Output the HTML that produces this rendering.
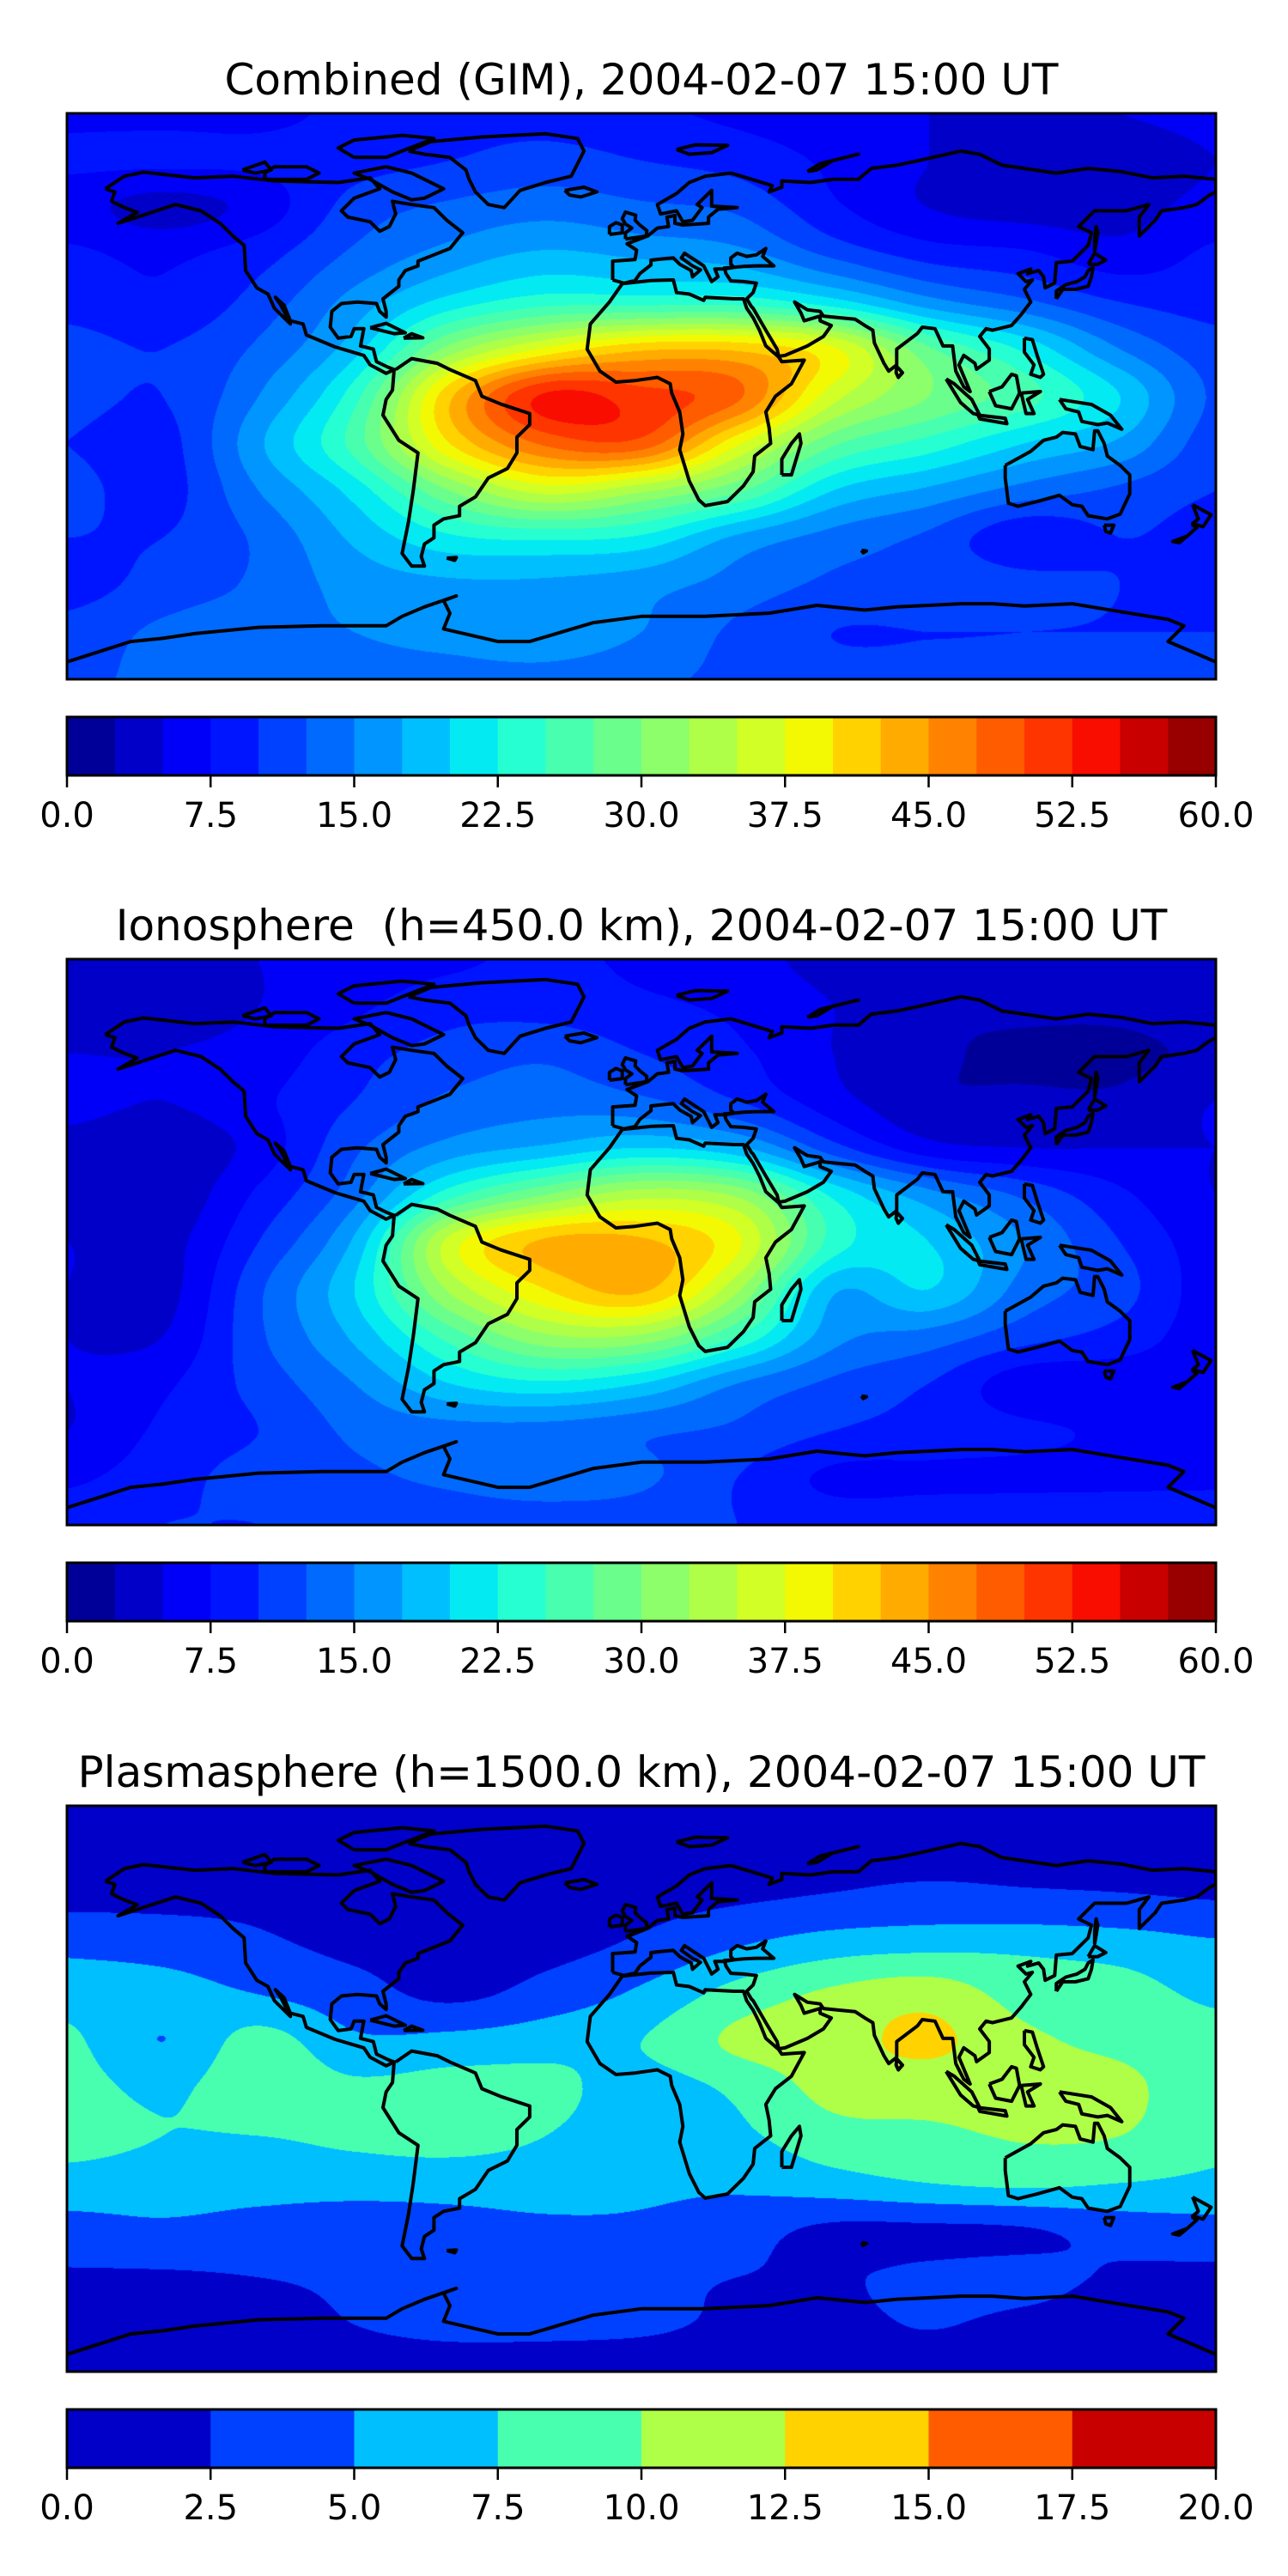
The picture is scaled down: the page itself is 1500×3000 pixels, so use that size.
<!DOCTYPE html>
<html><head><meta charset="utf-8">
<style>
html,body{margin:0;padding:0;background:#fff;}
#wrap{position:relative;width:1500px;height:3000px;overflow:hidden;}
canvas{position:absolute;}
svg{position:absolute;left:0;top:0;}
</style></head>
<body>
<div id="wrap">
<canvas id="c0" width="1338" height="659" style="left:78px;top:132px"></canvas>
<canvas id="c1" width="1338" height="659" style="left:78px;top:1117px"></canvas>
<canvas id="c2" width="1338" height="659" style="left:78px;top:2103px"></canvas>
<svg id="ov" width="1500" height="3000"></svg>
</div>
<script>
const lons=[-180,-150,-120,-90,-60,-30,0,30,60,90,120,150,180];
const lats=[90,75,60,45,30,15,0,-15,-30,-45,-60,-75,-90];
const gimValues=[
[7,7,7,8,9,9,8,7,6,5,4,5,6],
[8,8,8,9,10,11,10,9,7,5,4,3,5],
[6,4,6,11,13,14,13,12,8,5,4,4,6],
[8,7,9,13,16,18,17,16,12,9,8,6,8],
[9,8,11,16,21,24,24,24,21,16,13,10,9],
[11,10,13,19,31,38,42,42,38,28,22,15,11],
[11,10,15,24,42,53,51,48,36,30,26,20,12],
[10,9,17,26,40,48,49,38,28,24,20,17,11],
[11,9,15,21,30,36,33,28,20,17,14,12,10],
[10,10,13,18,22,23,22,17,14,12,8,10,9],
[9,11,13,16,17,17,16,14,12,12,11,10,9],
[11,13,14,15,16,17,15,12,10,10,10,10,10],
[12,13,13,14,14,14,13,12,11,11,11,11,11]];
const ionoValues=[
[5,5,5,6,7,8,7,6,4,3,3,3,4],
[4,4,5,7,9,9,8,7,5,3,3,3,4],
[5,5,6,9,11,12,10,8,5,3,2,2,3],
[6,5,7,10,13,14,13,10,6,3,3,3,5],
[4,3,6,12,16,18,20,18,11,6,5,5,5],
[4,3,8,14,24,30,34,32,22,16,12,8,5],
[5,4,10,18,36,43,43,38,24,20,15,10,6],
[5,4,12,20,33,40,43,33,18,20,14,11,6],
[5,5,12,18,26,32,32,25,16,14,11,9,6],
[5,7,11,15,20,22,20,15,12,10,6,6,6],
[5,8,10,13,14,14,13,12,10,9,8,7,6],
[7,9,11,12,13,14,13,10,7,7,7,7,7],
[9,10,10,11,11,11,11,10,9,9,9,9,9]];
const plasmaValues=[
[1.5,1.5,1.5,1.5,1.5,1.5,1.5,1.5,1.5,1.5,1.5,1.5,1.5],
[1.5,1.5,1.5,1.5,1.5,1.5,1.5,1.8,2,2,2,2,2],
[2,2,2,1.5,1.5,1.5,1.8,2.3,2.8,3.2,3,2.8,2.5],
[4.5,4,3,2,1.5,1.8,3,5,6.5,7,7,6.5,5.5],
[6.5,6,5,3.5,2,3.5,5.5,8.5,10.5,11.5,9,8.5,7],
[8,5,8.5,5.5,5.8,6.5,7.5,10.5,11.5,13,10.5,9.5,8.5],
[8.5,7,9,8,8.5,8.2,6.5,8,10.8,11,10.5,10.5,8.5],
[8.5,7.5,7.5,8,8.5,7.5,6,7,9,9.5,10.2,10,8],
[6.5,6.2,6,6,6,6,5.5,5.5,6.5,7.5,8,7.5,7],
[4,4.5,4,3.5,4,4.5,4.5,3.5,2,2,2.3,3.5,4],
[2.2,2.2,2.5,2.8,3,3.2,3,2.5,2.3,3,3.2,2.2,2],
[1.5,1.5,1.8,2.5,3,3,2.8,2.2,2,2.6,2,1.5,1.5],
[1.5,1.5,1.5,1.5,1.5,1.5,1.5,1.5,1.5,1.5,1.5,1.5,1.5]];
const gimTicks=["0.0","7.5","15.0","22.5","30.0","37.5","45.0","52.5","60.0"];
const plasmaTicks=["0.0","2.5","5.0","7.5","10.0","12.5","15.0","17.5","20.0"];
const titles=["Combined (GIM), 2004-02-07 15:00 UT","Ionosphere  (h=450.0 km), 2004-02-07 15:00 UT","Plasmasphere (h=1500.0 km), 2004-02-07 15:00 UT"];

const MX=78,MW=1338,MH=659;
const TOPS=[132,1117,2103];
function jet(t){
  function seg(p,x){for(let i=0;i<p.length-1;i++){if(x<=p[i+1][0]){const f=(x-p[i][0])/(p[i+1][0]-p[i][0]);return p[i][1]+f*(p[i+1][1]-p[i][1]);}}return p[p.length-1][1];}
  const r=seg([[0,0],[0.35,0],[0.66,1],[0.89,1],[1,0.5]],t);
  const g=seg([[0,0],[0.125,0],[0.375,1],[0.64,1],[0.91,0],[1,0]],t);
  const b=seg([[0,0.5],[0.11,1],[0.34,1],[0.65,0],[1,0]],t);
  return [Math.round(r*255),Math.round(g*255),Math.round(b*255)];
}
function cr(p0,p1,p2,p3,t){return 0.5*((2*p1)+(-p0+p2)*t+(2*p0-5*p1+4*p2-p3)*t*t+(-p0+3*p1-3*p2+p3)*t*t*t);}
function sample(grid,fx,fy){
  const nx=grid[0].length,ny=grid.length;
  const ix=Math.floor(fx),iy=Math.floor(fy),tx=fx-ix,ty=fy-iy;
  const cx=i=>Math.max(0,Math.min(nx-1,i)),cy=i=>Math.max(0,Math.min(ny-1,i));
  const rows=[];
  for(let j=-1;j<=2;j++){const r=grid[cy(iy+j)];rows.push(cr(r[cx(ix-1)],r[cx(ix)],r[cx(ix+1)],r[cx(ix+2)],tx));}
  return cr(rows[0],rows[1],rows[2],rows[3],ty);
}
function drawMap(id,grid,vmax,nb){
  const c=document.getElementById(id),ctx=c.getContext('2d');
  const img=ctx.createImageData(MW,MH),d=img.data;
  const cols=[];for(let i=0;i<nb;i++)cols.push(jet((i+0.5)/nb));
  const step=vmax/nb;
  const dlon=lons[1]-lons[0],dlat=lats[0]-lats[1];
  for(let y=0;y<MH;y++){
    const lat=90-(y+0.5)/MH*180;const fy=(lats[0]-lat)/dlat;
    for(let x=0;x<MW;x++){
      const lon=-180+(x+0.5)/MW*360;const fx=(lon-lons[0])/dlon;
      const v=sample(grid,fx,fy);
      let k=Math.floor(v/step);k=Math.max(0,Math.min(nb-1,k));
      const o=(y*MW+x)*4,cc=cols[k];d[o]=cc[0];d[o+1]=cc[1];d[o+2]=cc[2];d[o+3]=255;
    }
  }
  ctx.putImageData(img,0,0);
}
drawMap('c0',gimValues,60,24);
drawMap('c1',ionoValues,60,24);
drawMap('c2',plasmaValues,20,8);

const coasts=[
[[-168,66],[-162,70],[-156,71.3],[-140,69.5],[-128,70],[-115,68.5],[-95,68],[-85,69.5],[-82,66],[-90,63],[-94,59],[-92,57],[-85,55.5],[-82,52.5],[-79,54],[-77,58],[-78,62],[-72,61],[-65,60],[-61,56],[-56,52],[-60,47],[-65,45],[-70,43],[-70,41.5],[-74,40],[-76,37],[-76,35],[-81,31],[-80,27],[-80,25.2],[-82,27],[-83,29.5],[-89,30],[-94,29.5],[-97,27],[-97.5,22],[-95,18.5],[-91,19],[-90,21.5],[-87,21.5],[-88,16],[-84,15],[-83,11],[-79.5,9.3],[-77.5,8.5],[-80,7.3],[-85,10],[-87,13],[-92,14.5],[-96,15.7],[-105,19.5],[-106,23],[-110,24],[-112,29],[-114.7,31.5],[-113,29],[-110,23],[-112,25],[-115,28],[-117,32.5],[-120.5,34.5],[-124,40],[-124.5,48],[-128,51],[-132,55],[-138,59],[-146,61],[-152,59],[-158,57],[-164,55],[-158,58.5],[-162,60],[-166,62],[-165,65],[-168,66]],
[[-80,73],[-72,71],[-64,67],[-62,66],[-68,63],[-72,62.5],[-78,65],[-85,69],[-90,71],[-80,73]],
[[-90,76],[-80,76],[-75,78],[-65,82],[-75,83],[-90,81.5],[-95,79],[-90,76]],
[[-118,69],[-105,69],[-101,71],[-105,73],[-115,73],[-118,71],[-118,69]],
[[-125,72],[-118,74.5],[-116,72],[-121,71],[-125,72]],
[[-73,78],[-66,81],[-50,82.5],[-30,83.5],[-20,82],[-18,78],[-20,74],[-22,70],[-30,68],[-38,65.5],[-43,60],[-48,61],[-52,65],[-54,69],[-55,72],[-60,76],[-68,77],[-73,78]],
[[-77,8.5],[-72,12],[-64,10.5],[-60,8.5],[-52,5],[-50,0],[-44,-2.5],[-35,-5.5],[-35,-9],[-39,-13],[-39,-18],[-42,-23],[-48,-26],[-52,-32],[-57,-35],[-57,-38],[-62,-39],[-65,-41],[-65,-45],[-68,-47],[-69,-51],[-68,-54],[-72,-54],[-75,-50],[-74,-45],[-73,-40],[-71.5,-30],[-70,-18],[-76,-14],[-81,-6],[-80,-1],[-78,2],[-77.5,8.5]],
[[-6,35.8],[-10,30],[-16,23],[-17,15],[-13,8],[-8,4.5],[-2,5],[5,6],[9,4],[9.5,1],[12,-5],[13,-12],[12,-17],[15,-27],[18,-33],[20,-34.8],[27,-33.5],[32,-28.5],[35,-24],[35.5,-19],[40.5,-15],[40,-10],[39,-5],[42,0],[47,4],[51,11.5],[44,11],[43,12.5],[39,16],[37,21],[35,25],[33,28],[32,31],[29,31],[20,31.5],[19.5,30.5],[15,32.5],[11,33],[10,37],[3,36.8],[-6,35.8]],
[[-9,37],[-9,43],[-2,43.5],[-1.5,46.5],[-4.5,48.5],[2,51],[5,53.5],[8.5,54],[8,57],[10.5,57.5],[10.5,55],[13,54.5],[21,55],[21,57],[24,59.5],[30,60],[22,60.5],[22,65.5],[17.5,61],[19,60],[16,56],[13,55.5],[11,59],[6,58],[5,61],[11,64.5],[15,68],[20,70],[28,71],[33,69.5],[41,67],[40,65],[44,66.5],[44,68.5],[53,68],[60,69],[68,69],[72,72.5],[80,73.5],[87,75],[100,78],[106,77],[113,73.5],[130,71],[140,72.5],[150,71.5],[160,69.5],[170,70],[180,69],[180,65],[178,64],[174,61],[170,60],[163,59],[161,56],[156,51],[156,57],[159,61],[152,59],[142,59],[137,54],[141,52],[140,48],[135,43],[130,42.5],[129.5,36],[126.5,34.5],[126,38],[124.5,40],[121,39],[122,40.5],[118,39],[120.5,36.5],[122.5,37],[120,34],[122,30],[119,26],[116,22.5],[110,21],[108,21.5],[106,19],[109,15],[109,11.5],[105,8.6],[104.5,10.5],[101,13],[99.5,10],[103,1.5],[101,3],[98.5,8],[97.5,16],[94.5,16],[92,21.5],[88,22],[86.5,20],[80,15],[80,10],[77.5,8],[76,10.5],[73,17],[72.5,21],[70,22.5],[67,24.5],[62,25],[57,25.5],[56,27],[52,27.5],[48,30],[50,26.5],[51,24],[56,25.5],[56,24],[59.5,22.5],[57,19],[52,16],[45,13],[43,12.7],[42.5,15],[39,21],[35,28],[34.5,28.5],[33,31],[35,33],[36,36],[32,36.5],[28,36.7],[26.5,39],[26,40.8],[29,41],[28,42],[28,44],[30,45.5],[33,44.5],[36,45],[39,47],[38,44.5],[41.5,41.5],[36,41.5],[32,41.3],[29,41],[26,40.5],[23,40.5],[24,38],[22,36.5],[21,38.5],[19.5,41.5],[13.5,45.5],[12.5,44],[16,41.5],[18.5,40.2],[16,38],[15.6,40],[12,42],[10,44],[7.5,43.8],[3,43.3],[3,41.8],[-0.5,39],[-2,36.8],[-5.5,36],[-9,37]],
[[-5,50],[1.5,51],[1.7,52.7],[-0.5,54.5],[-2,56],[-1.8,57.6],[-5,58.6],[-6,56.5],[-5,54.8],[-3,53.5],[-5,52],[-5,50]],
[[-10,51.5],[-6,52],[-6,54.5],[-8,55.2],[-10,54],[-10,51.5]],
[[-24,65.5],[-18,66.5],[-14,65],[-19,63.4],[-22.5,64],[-24,65.5]],
[[11,78.5],[17,80],[27,79.8],[22,77.5],[15,77],[11,78.5]],
[[52,71.5],[56,74],[68,77],[60,75],[55,72],[52,71.5]],
[[142,46],[143,52],[142.5,54],[142,50],[142,46]],
[[114,-22],[114,-26],[115,-34],[118,-35],[124,-33.5],[131,-31.5],[135,-34.5],[138,-35],[140,-38],[146,-39],[150,-37.5],[153,-31],[153,-25],[150,-22],[146,-19],[145,-15],[143,-11],[142,-11],[141.5,-17],[137.5,-16],[136,-12],[132,-11.5],[130,-13],[126,-14],[122,-17.5],[114,-22]],
[[145,-41],[148,-41],[147,-43.5],[145.5,-43],[145,-41]],
[[-180,-84.5],[-160,-78],[-150,-77],[-140,-75.5],[-120,-73.5],[-100,-73],[-80,-73],[-75,-70],[-68,-67],[-58,-63.5],[-62,-65],[-60,-69],[-62,-74],[-45,-78],[-35,-78],[-25,-75],[-15,-72],[0,-70],[20,-70],[40,-69],[55,-66.5],[70,-68],[80,-67],[90,-66.5],[100,-66],[110,-66],[120,-66.7],[135,-66],[150,-68.5],[165,-71],[170,-73],[165,-78],[180,-84.5]],
[[44,-25],[47,-25],[50,-15],[49.5,-12],[47,-15],[44,-20],[44,-25]],
[[130,31],[132,34],[136,34],[140,35],[141,38],[141.5,41],[140,40],[139,38],[136.5,36.5],[133,35.5],[130,33.5],[130,31]],
[[140,42],[142,45.5],[145.5,43.3],[143,42],[140,42]],
[[95.5,5.5],[98,4],[103.5,-1],[106,-6],[104,-5.5],[100,-2],[95.5,5.5]],
[[109,1.5],[111,-3],[116,-4],[118.5,1],[117.5,6.5],[116,7],[113,3],[109,1.5]],
[[105.5,-6],[114,-7],[114.5,-8.7],[106,-7.2],[105.5,-6]],
[[131,-1],[141,-2.6],[147,-6],[150.5,-10.5],[146,-8.5],[143,-9],[138,-8],[137,-5],[133,-4],[131,-1]],
[[120,18.5],[122.5,18],[124,13],[126,7],[125,6],[122,7],[123,10],[120,14],[120,18.5]],
[[119,1],[125,1.5],[121,-1],[123,-5.5],[120.5,-5.5],[119,1]],
[[80,9.5],[81.8,7.5],[80.5,6],[79.8,7.5],[80,9.5]],
[[172.7,-34.5],[178.5,-37.7],[176,-41.5],[172.7,-40.5],[174.5,-39],[172.7,-34.5]],
[[172.5,-40.8],[174,-41.8],[171,-44.5],[166.5,-46.2],[168.5,-46.6],[171,-44.5]],
[[-85,21.8],[-80,23.2],[-74,20.2],[-77.5,19.9],[-85,21.8]],
[[-74.5,18.5],[-68.5,18.6],[-72,19.9],[-74.5,18.5]],
[[-61,-51.5],[-58,-51.3],[-58.5,-52.2],[-61,-51.5]],
[[69,-49],[70.5,-49.2],[69.5,-49.8],[69,-49]]
];
const NS='http://www.w3.org/2000/svg';
const ov=document.getElementById('ov');
function mk(tag,attrs,parent){const e=document.createElementNS(NS,tag);for(const k in attrs)e.setAttribute(k,attrs[k]);(parent||ov).appendChild(e);return e;}
const defs=mk('defs',{});
for(let p=0;p<3;p++){
  const top=TOPS[p];
  const cp=mk('clipPath',{id:'clip'+p},defs);mk('rect',{x:MX,y:top,width:MW,height:MH},cp);
  const xs=lon=>MX+(lon+180)/360*MW, ys=lat=>top+(90-lat)/180*MH;
  const t=mk('text',{x:MX+MW/2,y:top-22,'text-anchor':'middle','font-family':'DejaVu Sans, Liberation Sans, sans-serif','font-size':'50',style:'white-space:pre'});
  t.textContent=titles[p];
  
  
  const g=mk('g',{'clip-path':'url(#clip'+p+')',fill:'none',stroke:'#000','stroke-width':'4','stroke-linejoin':'round'});
  
  
  coasts.forEach(poly=>{mk('path',{d:'M'+poly.map(q=>xs(q[0]).toFixed(1)+','+ys(q[1]).toFixed(1)).join('L')},g);});
  const fr=mk('rect',{x:MX,y:top,width:MW,height:MH,fill:'none',stroke:'#000','stroke-width':'3'});
  
  
  const cbTop=top+703,cbH=68;
  const nb=p<2?24:8,vmax=p<2?60:20,ticks=p<2?gimTicks:plasmaTicks;
  const cx=v=>MX+v/vmax*MW;
  const cg=mk('g',{});
  
  
  for(let i=0;i<nb;i++){
    const c=jet((i+0.5)/nb);
    const r=mk('rect',{x:cx(i*vmax/nb),y:cbTop,width:MW/nb+0.6,height:cbH,fill:'rgb('+c.join(',')+')'},cg);
    
    
  }
  mk('rect',{x:MX,y:cbTop,width:MW,height:cbH,fill:'none',stroke:'#000','stroke-width':'3'},cg);
  ticks.forEach((lab,i)=>{
    const x=MX+i/(ticks.length-1)*MW;
    mk('line',{x1:x,x2:x,y1:cbTop+cbH,y2:cbTop+cbH+14,stroke:'#000','stroke-width':'2.5'},cg);
    const tt=mk('text',{x:x,y:cbTop+cbH+60,'text-anchor':'middle','font-family':'DejaVu Sans, Liberation Sans, sans-serif','font-size':'40'},cg);
    tt.textContent=lab;
    
    
  });
}
</script>
</body></html>
